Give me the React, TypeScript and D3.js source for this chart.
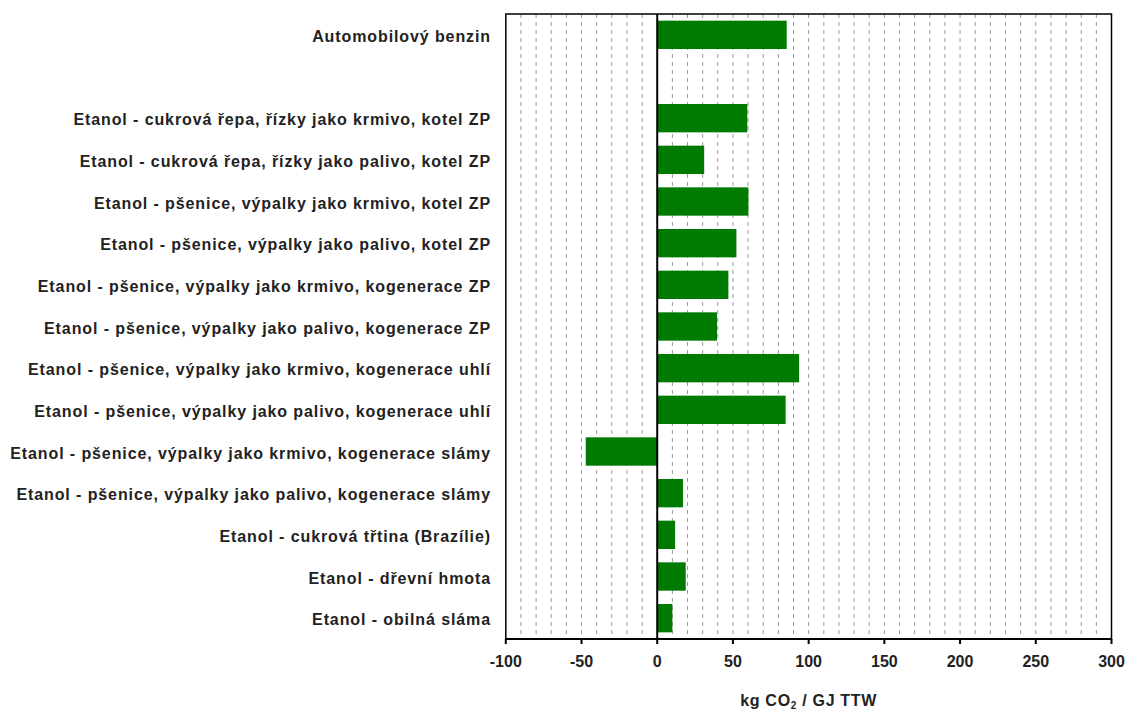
import React from "react";
import * as d3 from "d3";

const categories: string[] = [
  "Automobilový benzin",
  "",
  "Etanol - cukrová řepa, řízky jako krmivo, kotel ZP",
  "Etanol - cukrová řepa, řízky jako palivo, kotel ZP",
  "Etanol - pšenice, výpalky jako krmivo, kotel ZP",
  "Etanol - pšenice, výpalky jako palivo, kotel ZP",
  "Etanol - pšenice, výpalky jako krmivo, kogenerace ZP",
  "Etanol - pšenice, výpalky jako palivo, kogenerace ZP",
  "Etanol - pšenice, výpalky jako krmivo, kogenerace uhlí",
  "Etanol - pšenice, výpalky jako palivo, kogenerace uhlí",
  "Etanol - pšenice, výpalky jako krmivo, kogenerace slámy",
  "Etanol - pšenice, výpalky jako palivo, kogenerace slámy",
  "Etanol - cukrová třtina (Brazílie)",
  "Etanol - dřevní hmota",
  "Etanol - obilná sláma",
];

const values: (number | null)[] = [
  85.5, null, 59.5, 31, 60.2, 52.3, 47, 39.5, 93.7, 84.8, -47.2, 17, 11.8, 18.8, 10,
];

const majorTicks: number[] = [-100, -50, 0, 50, 100, 150, 200, 250, 300];
const gridTicks: number[] = d3.range(-90, 300, 10);
const xTitle = "kg CO";
const xTitleSub = "2";
const xTitleRest = " / GJ TTW";

export default function App() {
  const W = 1129, H = 711;
  const left = 505.8, right = 1111.5, top = 14, bottom = 639;
  const x = d3.scaleLinear().domain([-100, 300]).range([left, right]);
  const y = d3.scaleBand<number>().domain(d3.range(categories.length)).range([top, bottom]).paddingInner(0.32).paddingOuter(0.16);
  const font = "'Liberation Sans', Arial, sans-serif";
  const green = "#017a01";
  return (
    <svg width={W} height={H} style={{ position: "absolute", left: 0, top: 0, background: "#fff" }}>
      <rect x={0} y={0} width={W} height={H} fill="#fff" />
      {gridTicks.filter(t => t !== 0).map(t => (
        <line key={t} x1={x(t)} x2={x(t)} y1={top} y2={bottom} stroke="#9a9a9a" strokeWidth={1} strokeDasharray="4,4" />
      ))}
      {values.map((v, i) =>
        v === null ? null : (
          <rect key={i} x={x(Math.min(0, v))} y={y(i)!} width={Math.abs(x(v) - x(0))} height={y.bandwidth()} fill={green} />
        )
      )}
      <rect x={left} y={top} width={right - left} height={bottom - top} fill="none" stroke="#000" strokeWidth={1.5} />
      <line x1={x(0)} x2={x(0)} y1={top} y2={bottom} stroke="#000" strokeWidth={2} />
      <line x1={left} x2={right} y1={bottom} y2={bottom} stroke="#000" strokeWidth={2} />
      {majorTicks.map(t => (
        <g key={t}>
          <line x1={x(t)} x2={x(t)} y1={bottom} y2={bottom + 5} stroke="#000" strokeWidth={2} />
          <text x={x(t)} y={bottom + 28} textAnchor="middle" fontFamily={font} fontWeight="bold" fontSize={16} fill="#222">{t}</text>
        </g>
      ))}
      {categories.map((c, i) => c ? (
        <text key={i} x={491} y={y(i)! + y.bandwidth() / 2} dy="0.44em" textAnchor="end" fontFamily={font} fontWeight="bold" fontSize={16} letterSpacing={0.9} fill="#222">{c}</text>
      ) : null)}
      <text x={(left + right) / 2} y={706} textAnchor="middle" fontFamily={font} fontWeight="bold" fontSize={16} letterSpacing={0.7} fill="#222">
        {xTitle}<tspan fontSize={10} dy={3}>{xTitleSub}</tspan><tspan dy={-3}>{xTitleRest}</tspan>
      </text>
    </svg>
  );
}
